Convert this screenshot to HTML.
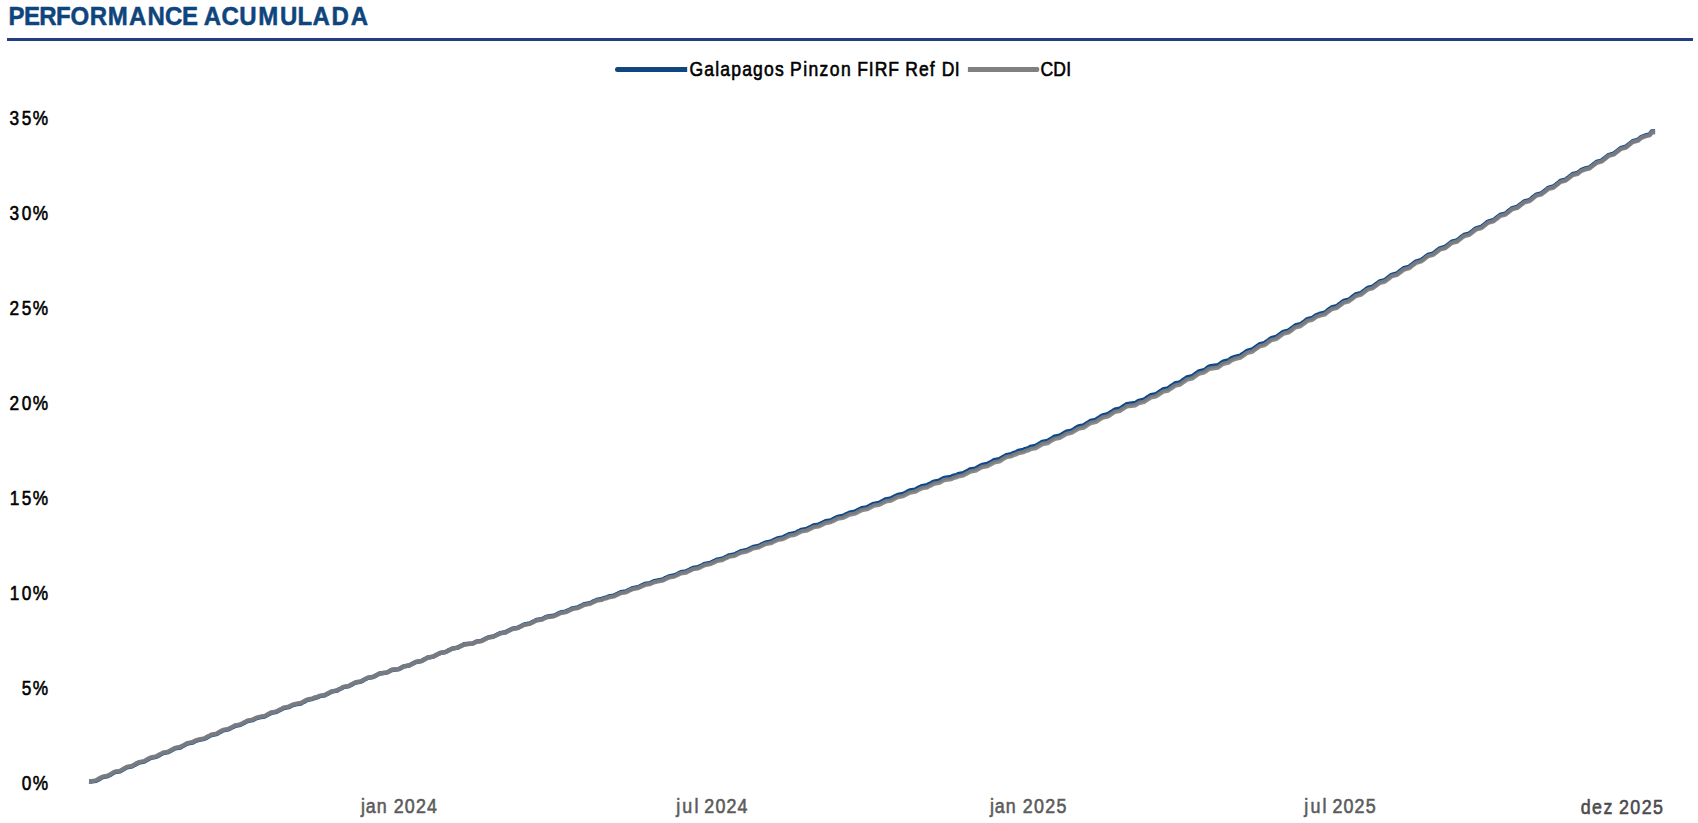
<!DOCTYPE html>
<html lang="pt-BR"><head><meta charset="utf-8"><title>PERFORMANCE ACUMULADA</title>
<style>
html,body{margin:0;padding:0;background:#fff;}
body{width:1698px;height:823px;overflow:hidden;position:relative;font-family:"Liberation Sans",sans-serif;}
svg{position:absolute;left:0;top:0;display:block}
text{font-family:"Liberation Sans",sans-serif;}
</style></head><body>
<svg width="1698" height="823" viewBox="0 0 1698 823">
<rect width="1698" height="823" fill="#fff"/>
<rect x="7" y="38" width="1686" height="3" fill="#203e80"/>
<!-- legend -->
<path d="M617.5,66.9 H687.2 V71.9 H617.5 A2.5,2.5 0 0 1 617.5,66.9 Z" fill="#11457e"/>
<path d="M967.9,67.1 H1037.6 Q1039.3,67.1 1039.3,69.5 Q1039.3,71.9 1037.6,71.9 H967.9 Z" fill="#808080"/>
<text transform="translate(0,25.0) scale(0.95,1)" x="9.05 25.26 41.32 58.95 74.31 94.38 113.52 135.92 155.34 173.64 191.58 194.74 214.60 233.21 251.85 271.86 294.67 313.24 328.93 349.05 369.21" y="0" font-size="25.3" font-weight="bold" fill="#0f457d" stroke="#0f457d" stroke-width="0.5" stroke-linejoin="round">PERFORMANCE ACUMULADA</text>
<text transform="translate(0,75.6) scale(0.86,1)" x="801.77 819.00 831.70 837.59 850.29 862.99 875.69 888.39 901.10 902.26 918.72 933.93 940.08 953.03 964.84 977.79 978.96 996.74 1010.30 1017.07 1032.91 1034.07 1052.55 1068.60 1081.26 1082.43 1095.11 1110.06" y="0" font-size="20.4" fill="#000" stroke="#000" stroke-width="0.6" stroke-linejoin="round">Galapagos Pinzon FIRF Ref DI</text>
<text transform="translate(0,75.6) scale(0.86,1)" x="1209.79 1224.75 1239.71" y="0" font-size="20.4" fill="#000" stroke="#000" stroke-width="0.6" stroke-linejoin="round">CDI</text>
<text transform="translate(0,790.0) scale(0.83,1)" x="26.07 39.54" y="0" font-size="20.8" fill="#000" stroke="#000" stroke-width="0.6" stroke-linejoin="round">0%</text>
<text transform="translate(0,695.0) scale(0.83,1)" x="26.07 39.54" y="0" font-size="20.8" fill="#000" stroke="#000" stroke-width="0.6" stroke-linejoin="round">5%</text>
<text transform="translate(0,599.9) scale(0.83,1)" x="11.68 26.07 39.54" y="0" font-size="20.8" fill="#000" stroke="#000" stroke-width="0.6" stroke-linejoin="round">10%</text>
<text transform="translate(0,504.9) scale(0.83,1)" x="11.68 26.07 39.54" y="0" font-size="20.8" fill="#000" stroke="#000" stroke-width="0.6" stroke-linejoin="round">15%</text>
<text transform="translate(0,409.8) scale(0.83,1)" x="11.34 26.07 39.54" y="0" font-size="20.8" fill="#000" stroke="#000" stroke-width="0.6" stroke-linejoin="round">20%</text>
<text transform="translate(0,314.8) scale(0.83,1)" x="11.34 26.07 39.54" y="0" font-size="20.8" fill="#000" stroke="#000" stroke-width="0.6" stroke-linejoin="round">25%</text>
<text transform="translate(0,219.7) scale(0.83,1)" x="11.39 26.07 39.54" y="0" font-size="20.8" fill="#000" stroke="#000" stroke-width="0.6" stroke-linejoin="round">30%</text>
<text transform="translate(0,124.7) scale(0.83,1)" x="11.39 26.07 39.54" y="0" font-size="20.8" fill="#000" stroke="#000" stroke-width="0.6" stroke-linejoin="round">35%</text>
<text transform="translate(0,812.6) scale(0.86,1)" x="419.71 425.41 438.06 439.23 457.91 470.78 483.65 496.52" y="0" font-size="20.8" fill="#5b5b5b" stroke="#5b5b5b" stroke-width="0.6" stroke-linejoin="round">jan 2024</text>
<text transform="translate(0,812.6) scale(0.86,1)" x="786.33 793.43 807.47 808.64 819.02 831.89 844.76 857.63" y="0" font-size="20.8" fill="#5b5b5b" stroke="#5b5b5b" stroke-width="0.6" stroke-linejoin="round">jul 2024</text>
<text transform="translate(0,812.6) scale(0.86,1)" x="1151.10 1156.81 1169.46 1170.62 1189.31 1202.36 1215.42 1228.47" y="0" font-size="20.8" fill="#5b5b5b" stroke="#5b5b5b" stroke-width="0.6" stroke-linejoin="round">jan 2025</text>
<text transform="translate(0,812.6) scale(0.86,1)" x="1516.68 1523.78 1537.82 1538.99 1549.31 1562.21 1575.11 1588.01" y="0" font-size="20.8" fill="#5b5b5b" stroke="#5b5b5b" stroke-width="0.6" stroke-linejoin="round">jul 2025</text>
<text transform="translate(0,813.5) scale(0.86,1)" x="1838.12 1851.30 1864.48 1865.64 1882.45 1895.70 1908.95 1922.19" y="0" font-size="20.8" fill="#4b4b4f" stroke="#4b4b4f" stroke-width="0.6" stroke-linejoin="round">dez 2025</text>

<g><!-- series -->
<path d="M89.0,781.4 L90.7,781.5 L95.9,780.9 L97.6,780.0 L99.3,779.0 L101.0,778.0 L102.8,777.1 L107.9,776.1 L109.7,775.1 L111.4,774.2 L113.1,773.2 L114.8,772.2 L120.0,771.3 L121.7,770.3 L123.4,769.3 L125.1,768.4 L126.9,767.4 L132.0,766.4 L133.7,765.4 L135.5,764.5 L137.2,763.5 L138.9,762.6 L144.1,761.6 L145.8,760.7 L147.5,759.7 L149.2,758.8 L151.0,757.9 L156.1,756.9 L157.8,756.0 L159.6,755.0 L161.3,754.1 L163.0,753.1 L168.2,752.2 L169.9,751.2 L171.6,750.3 L173.3,749.4 L175.0,748.4 L180.2,747.5 L181.9,746.5 L183.7,745.6 L185.4,744.6 L187.1,743.7 L192.3,742.7 L194.0,741.8 L195.7,740.8 L199.1,739.9 L204.3,738.9 L206.0,738.0 L207.7,737.0 L209.5,736.1 L211.2,735.1 L216.4,734.1 L218.1,733.2 L219.8,732.2 L221.5,731.3 L223.2,730.4 L228.4,729.4 L230.1,728.5 L231.8,727.6 L233.6,726.7 L235.3,725.8 L240.4,724.8 L242.2,723.9 L243.9,723.0 L245.6,722.1 L247.3,721.1 L252.5,720.2 L254.2,719.3 L255.9,718.3 L259.4,717.4 L264.5,716.5 L266.3,715.6 L268.0,714.6 L269.7,713.7 L271.4,712.8 L276.6,711.8 L278.3,710.9 L280.0,710.0 L281.8,709.1 L283.5,708.1 L288.6,707.2 L290.4,706.3 L292.1,705.3 L295.5,704.4 L300.7,703.5 L302.4,702.6 L304.1,701.7 L305.8,700.8 L307.6,699.9 L312.7,698.9 L314.4,698.0 L317.9,697.1 L319.6,696.2 L324.8,695.3 L326.5,694.4 L328.2,693.5 L329.9,692.6 L331.7,691.7 L336.8,690.7 L338.5,689.8 L340.3,688.9 L342.0,688.0 L343.7,687.1 L348.9,686.2 L350.6,685.2 L352.3,684.3 L354.0,683.4 L355.8,682.5 L360.9,681.6 L362.6,680.7 L364.4,679.7 L366.1,678.8 L367.8,677.9 L373.0,677.0 L374.7,676.2 L376.4,675.3 L378.1,674.4 L379.8,673.5 L386.7,672.6 L388.5,671.7 L390.2,670.8 L391.9,670.0 L398.8,669.1 L400.5,668.2 L402.2,667.3 L403.9,666.4 L409.1,665.5 L410.8,664.6 L412.5,663.7 L414.3,662.8 L416.0,662.0 L421.2,661.1 L422.9,660.2 L424.6,659.3 L426.3,658.4 L428.0,657.5 L433.2,656.6 L434.9,655.7 L436.6,654.8 L438.4,653.9 L440.1,653.0 L445.2,652.1 L447.0,651.2 L448.7,650.3 L450.4,649.5 L452.1,648.6 L457.3,647.7 L459.0,646.9 L460.7,646.0 L462.5,645.2 L464.2,644.3 L472.8,643.4 L474.5,642.6 L476.2,641.7 L481.4,640.8 L483.1,640.0 L484.8,639.1 L486.5,638.2 L488.3,637.4 L493.4,636.5 L495.2,635.6 L496.9,634.8 L498.6,633.9 L500.3,633.1 L505.5,632.2 L507.2,631.3 L508.9,630.4 L510.6,629.6 L512.4,628.7 L517.5,627.8 L519.2,627.0 L521.0,626.1 L522.7,625.2 L524.4,624.4 L529.6,623.5 L531.3,622.6 L533.0,621.7 L534.7,620.9 L536.5,620.0 L541.6,619.2 L543.3,618.4 L545.1,617.5 L546.8,616.7 L553.7,615.8 L555.4,615.0 L557.1,614.2 L558.8,613.3 L560.6,612.5 L565.7,611.6 L567.4,610.8 L569.2,610.0 L570.9,609.1 L572.6,608.3 L577.8,607.4 L579.5,606.6 L581.2,605.8 L582.9,604.9 L584.6,604.1 L589.8,603.2 L591.5,602.4 L593.2,601.5 L595.0,600.7 L596.7,599.9 L601.9,599.0 L603.6,598.2 L607.0,597.3 L608.7,596.5 L613.9,595.6 L615.6,594.8 L617.3,593.9 L619.1,593.1 L620.8,592.2 L625.9,591.4 L627.7,590.6 L629.4,589.7 L631.1,588.9 L632.8,588.1 L638.0,587.2 L639.7,586.4 L641.4,585.6 L643.2,584.7 L644.9,583.9 L650.0,583.1 L651.8,582.2 L653.5,581.4 L656.9,580.6 L662.1,579.7 L663.8,578.9 L665.5,578.0 L667.3,577.2 L669.0,576.4 L674.1,575.5 L675.9,574.7 L677.6,573.9 L679.3,573.0 L681.0,572.2 L686.2,571.3 L687.9,570.5 L689.6,569.7 L691.3,568.8 L693.1,568.0 L698.2,567.1 L700.0,566.3 L701.7,565.5 L703.4,564.6 L705.1,563.8 L710.3,562.9 L712.0,562.1 L713.7,561.2 L715.4,560.4 L717.2,559.6 L722.3,558.7 L724.0,557.9 L725.8,557.0 L727.5,556.2 L729.2,555.3 L734.4,554.5 L736.1,553.6 L737.8,552.8 L739.5,551.9 L741.3,551.1 L746.4,550.2 L748.1,549.4 L749.9,548.6 L751.6,547.7 L753.3,546.9 L758.5,546.0 L760.2,545.2 L761.9,544.3 L763.6,543.5 L765.3,542.6 L770.5,541.7 L772.2,540.9 L774.0,540.0 L775.7,539.2 L777.4,538.4 L782.6,537.5 L784.3,536.6 L786.0,535.8 L787.7,534.9 L789.4,534.1 L794.6,533.2 L796.3,532.4 L798.0,531.5 L799.8,530.7 L801.5,529.8 L806.7,528.9 L808.4,528.1 L810.1,527.2 L811.8,526.4 L813.5,525.5 L818.7,524.6 L820.4,523.8 L822.1,522.9 L823.9,522.1 L825.6,521.2 L830.7,520.4 L832.5,519.5 L834.2,518.6 L835.9,517.8 L837.6,516.9 L842.8,516.0 L844.5,515.2 L846.2,514.3 L848.0,513.5 L849.7,512.6 L854.8,511.7 L856.6,510.8 L858.3,509.9 L860.0,509.1 L861.7,508.2 L866.9,507.3 L868.6,506.4 L870.3,505.5 L872.0,504.6 L873.8,503.8 L878.9,502.9 L880.7,502.0 L882.4,501.1 L884.1,500.2 L885.8,499.3 L891.0,498.4 L892.7,497.5 L894.4,496.6 L896.1,495.8 L897.9,494.9 L903.0,494.0 L904.7,493.1 L906.5,492.2 L908.2,491.3 L909.9,490.5 L915.1,489.6 L916.8,488.7 L918.5,487.8 L920.2,486.9 L922.0,486.1 L927.1,485.2 L928.8,484.3 L930.6,483.4 L932.3,482.5 L934.0,481.6 L939.2,480.7 L940.9,479.7 L942.6,478.8 L944.3,477.9 L951.2,477.0 L952.9,476.0 L956.4,475.1 L958.1,474.2 L963.3,473.2 L965.0,472.3 L966.7,471.4 L968.4,470.5 L970.1,469.5 L975.3,468.6 L977.0,467.7 L978.8,466.7 L980.5,465.8 L982.2,464.9 L987.4,464.0 L989.1,463.0 L990.8,462.1 L992.5,461.2 L994.2,460.1 L999.4,459.1 L1001.1,458.1 L1002.8,457.1 L1004.6,456.1 L1006.3,455.1 L1011.5,454.1 L1013.2,453.0 L1016.6,452.0 L1018.3,451.0 L1023.5,450.0 L1025.2,449.0 L1028.7,448.0 L1030.4,446.9 L1035.5,445.9 L1037.3,444.9 L1039.0,443.9 L1040.7,442.9 L1042.4,441.8 L1047.6,440.8 L1049.3,439.8 L1051.0,438.8 L1052.8,437.8 L1054.5,436.7 L1059.6,435.7 L1061.4,434.7 L1063.1,433.7 L1064.8,432.6 L1066.5,431.6 L1071.7,430.6 L1073.4,429.6 L1075.1,428.5 L1076.8,427.5 L1078.6,426.4 L1083.7,425.3 L1085.5,424.2 L1087.2,423.1 L1088.9,422.0 L1090.6,420.9 L1095.8,419.8 L1097.5,418.6 L1099.2,417.5 L1100.9,416.4 L1102.7,415.3 L1107.8,414.2 L1109.5,413.1 L1111.3,412.0 L1113.0,410.9 L1114.7,409.7 L1119.9,408.6 L1121.6,407.5 L1123.3,406.4 L1125.0,405.3 L1126.8,404.2 L1135.4,403.0 L1137.1,401.9 L1138.8,400.8 L1144.0,399.7 L1145.7,398.6 L1147.4,397.4 L1149.1,396.3 L1150.9,395.2 L1156.0,394.1 L1157.7,393.0 L1159.5,391.8 L1161.2,390.7 L1162.9,389.5 L1168.1,388.3 L1169.8,387.1 L1171.5,385.9 L1173.2,384.7 L1174.9,383.5 L1180.1,382.3 L1181.8,381.1 L1183.5,379.8 L1185.3,378.6 L1187.0,377.4 L1192.2,376.2 L1193.9,375.0 L1195.6,373.8 L1197.3,372.6 L1199.0,371.4 L1204.2,370.2 L1205.9,369.0 L1207.6,367.7 L1209.4,366.5 L1218.0,365.3 L1219.7,364.1 L1221.4,362.9 L1223.1,361.7 L1228.3,360.5 L1230.0,359.3 L1231.7,358.1 L1235.2,356.9 L1240.3,355.7 L1242.1,354.4 L1243.8,353.2 L1245.5,352.0 L1247.2,350.8 L1252.4,349.5 L1254.1,348.2 L1255.8,347.0 L1257.6,345.7 L1259.3,344.5 L1264.4,343.2 L1266.2,341.9 L1267.9,340.7 L1269.6,339.4 L1271.3,338.2 L1276.5,336.9 L1278.2,335.6 L1279.9,334.4 L1281.6,333.1 L1283.4,331.8 L1288.5,330.6 L1290.3,329.3 L1292.0,328.0 L1293.7,326.8 L1295.4,325.5 L1300.6,324.2 L1302.3,322.9 L1304.0,321.7 L1305.7,320.4 L1307.5,319.1 L1312.6,317.8 L1314.3,316.6 L1316.1,315.3 L1319.5,314.0 L1324.7,312.7 L1326.4,311.4 L1328.1,310.1 L1329.8,308.8 L1331.6,307.5 L1336.7,306.2 L1338.4,304.9 L1340.2,303.6 L1341.9,302.3 L1343.6,301.0 L1348.8,299.7 L1350.5,298.4 L1352.2,297.1 L1353.9,295.8 L1355.6,294.5 L1360.8,293.2 L1362.5,291.9 L1364.3,290.6 L1366.0,289.2 L1367.7,287.9 L1372.9,286.6 L1374.6,285.3 L1376.3,284.0 L1378.0,282.7 L1379.7,281.4 L1384.9,280.1 L1386.6,278.7 L1388.3,277.4 L1390.1,276.1 L1391.8,274.8 L1397.0,273.5 L1398.7,272.1 L1400.4,270.8 L1402.1,269.5 L1403.8,268.2 L1409.0,266.9 L1410.7,265.5 L1412.4,264.2 L1414.2,262.9 L1415.9,261.6 L1421.0,260.2 L1422.8,258.9 L1424.5,257.6 L1426.2,256.2 L1427.9,254.9 L1433.1,253.6 L1434.8,252.3 L1436.5,250.9 L1438.3,249.6 L1440.0,248.3 L1445.1,246.9 L1446.9,245.6 L1448.6,244.3 L1450.3,242.9 L1452.0,241.6 L1457.2,240.3 L1458.9,238.9 L1460.6,237.6 L1462.3,236.3 L1464.1,234.9 L1469.2,233.6 L1471.0,232.3 L1472.7,230.9 L1474.4,229.6 L1476.1,228.3 L1481.3,226.9 L1483.0,225.6 L1484.7,224.2 L1486.4,222.9 L1488.2,221.6 L1493.3,220.2 L1495.0,218.9 L1496.8,217.5 L1498.5,216.2 L1500.2,214.9 L1505.4,213.5 L1507.1,212.2 L1508.8,210.8 L1510.5,209.5 L1512.3,208.1 L1517.4,206.8 L1519.1,205.4 L1520.9,204.1 L1522.6,202.7 L1524.3,201.4 L1529.5,200.0 L1531.2,198.7 L1532.9,197.3 L1534.6,196.0 L1536.4,194.6 L1541.5,193.3 L1543.2,191.9 L1545.0,190.5 L1546.7,189.2 L1548.4,187.8 L1553.6,186.5 L1555.3,185.1 L1557.0,183.7 L1558.7,182.4 L1560.4,181.0 L1565.6,179.7 L1567.3,178.3 L1569.1,176.9 L1570.8,175.6 L1572.5,174.2 L1577.7,172.8 L1579.4,171.5 L1581.1,170.1 L1584.5,168.7 L1589.7,167.4 L1591.4,166.0 L1593.1,164.6 L1594.9,163.3 L1596.6,161.9 L1601.7,160.5 L1603.5,159.1 L1605.2,157.8 L1606.9,156.4 L1608.6,155.0 L1613.8,153.6 L1615.5,152.3 L1617.2,150.9 L1619.0,149.5 L1620.7,148.1 L1625.8,146.7 L1627.6,145.3 L1629.3,144.0 L1631.0,142.6 L1632.7,141.2 L1637.9,139.8 L1639.6,138.4 L1641.3,137.0 L1644.8,135.7 L1649.9,134.3 L1651.7,131.5 L1653.4,131.5 L1655.1,131.5" fill="none" stroke="#0d498a" stroke-width="4.4" stroke-linejoin="round" stroke-linecap="butt"/>
<path d="M89.0,781.4 L90.7,781.4 L95.9,780.4 L97.6,779.5 L99.3,778.5 L101.0,777.5 L102.8,776.6 L107.9,775.6 L109.7,774.6 L111.4,773.7 L113.1,772.7 L114.8,771.7 L120.0,770.8 L121.7,769.8 L123.4,768.8 L125.1,767.9 L126.9,766.9 L132.0,765.9 L133.7,764.9 L135.5,764.0 L137.2,763.0 L138.9,762.1 L144.1,761.1 L145.8,760.2 L147.5,759.2 L149.2,758.3 L151.0,757.4 L156.1,756.4 L157.8,755.5 L159.6,754.5 L161.3,753.6 L163.0,752.6 L168.2,751.7 L169.9,750.7 L171.6,749.8 L173.3,748.9 L175.0,747.9 L180.2,747.0 L181.9,746.0 L183.7,745.1 L185.4,744.1 L187.1,743.2 L192.3,742.2 L194.0,741.3 L195.7,740.3 L199.1,739.4 L204.3,738.4 L206.0,737.5 L207.7,736.5 L209.5,735.6 L211.2,734.6 L216.4,733.6 L218.1,732.7 L219.8,731.7 L221.5,730.8 L223.2,729.9 L228.4,728.9 L230.1,728.0 L231.8,727.1 L233.6,726.2 L235.3,725.3 L240.4,724.3 L242.2,723.4 L243.9,722.5 L245.6,721.6 L247.3,720.6 L252.5,719.7 L254.2,718.8 L255.9,717.8 L259.4,716.9 L264.5,716.0 L266.3,715.1 L268.0,714.1 L269.7,713.2 L271.4,712.3 L276.6,711.3 L278.3,710.4 L280.0,709.5 L281.8,708.6 L283.5,707.6 L288.6,706.7 L290.4,705.8 L292.1,704.8 L295.5,703.9 L300.7,703.0 L302.4,702.1 L304.1,701.2 L305.8,700.3 L307.6,699.4 L312.7,698.5 L314.4,697.6 L317.9,696.7 L319.6,695.8 L324.8,694.9 L326.5,694.0 L328.2,693.1 L329.9,692.2 L331.7,691.3 L336.8,690.4 L338.5,689.5 L340.3,688.6 L342.0,687.7 L343.7,686.8 L348.9,685.9 L350.6,685.0 L352.3,684.0 L354.0,683.1 L355.8,682.2 L360.9,681.3 L362.6,680.4 L364.4,679.5 L366.1,678.6 L367.8,677.7 L373.0,676.9 L374.7,676.0 L376.4,675.1 L378.1,674.2 L379.8,673.4 L386.7,672.5 L388.5,671.6 L390.2,670.7 L391.9,669.8 L398.8,669.0 L400.5,668.1 L402.2,667.2 L403.9,666.3 L409.1,665.5 L410.8,664.6 L412.5,663.7 L414.3,662.8 L416.0,661.9 L421.2,661.1 L422.9,660.2 L424.6,659.3 L426.3,658.4 L428.0,657.5 L433.2,656.6 L434.9,655.8 L436.6,654.9 L438.4,654.0 L440.1,653.1 L445.2,652.2 L447.0,651.3 L448.7,650.5 L450.4,649.6 L452.1,648.7 L457.3,647.9 L459.0,647.0 L460.7,646.2 L462.5,645.3 L464.2,644.5 L472.8,643.6 L474.5,642.8 L476.2,641.9 L481.4,641.1 L483.1,640.2 L484.8,639.3 L486.5,638.5 L488.3,637.6 L493.4,636.8 L495.2,635.9 L496.9,635.1 L498.6,634.2 L500.3,633.4 L505.5,632.5 L507.2,631.6 L508.9,630.8 L510.6,629.9 L512.4,629.1 L517.5,628.2 L519.2,627.4 L521.0,626.5 L522.7,625.6 L524.4,624.8 L529.6,623.9 L531.3,623.1 L533.0,622.2 L534.7,621.3 L536.5,620.5 L541.6,619.7 L543.3,618.9 L545.1,618.0 L546.8,617.2 L553.7,616.4 L555.4,615.5 L557.1,614.7 L558.8,613.9 L560.6,613.1 L565.7,612.2 L567.4,611.4 L569.2,610.6 L570.9,609.7 L572.6,608.9 L577.8,608.1 L579.5,607.3 L581.2,606.4 L582.9,605.6 L584.6,604.8 L589.8,603.9 L591.5,603.1 L593.2,602.3 L595.0,601.4 L596.7,600.6 L601.9,599.8 L603.6,598.9 L607.0,598.1 L608.7,597.3 L613.9,596.4 L615.6,595.6 L617.3,594.7 L619.1,593.9 L620.8,593.1 L625.9,592.3 L627.7,591.4 L629.4,590.6 L631.1,589.8 L632.8,589.0 L638.0,588.1 L639.7,587.3 L641.4,586.5 L643.2,585.7 L644.9,584.9 L650.0,584.0 L651.8,583.2 L653.5,582.4 L656.9,581.6 L662.1,580.7 L663.8,579.9 L665.5,579.1 L667.3,578.2 L669.0,577.4 L674.1,576.6 L675.9,575.8 L677.6,574.9 L679.3,574.1 L681.0,573.3 L686.2,572.5 L687.9,571.6 L689.6,570.8 L691.3,570.0 L693.1,569.1 L698.2,568.3 L700.0,567.5 L701.7,566.6 L703.4,565.8 L705.1,565.0 L710.3,564.1 L712.0,563.3 L713.7,562.5 L715.4,561.7 L717.2,560.8 L722.3,560.0 L724.0,559.1 L725.8,558.3 L727.5,557.5 L729.2,556.6 L734.4,555.8 L736.1,555.0 L737.8,554.1 L739.5,553.3 L741.3,552.5 L746.4,551.6 L748.1,550.8 L749.9,550.0 L751.6,549.1 L753.3,548.3 L758.5,547.4 L760.2,546.6 L761.9,545.8 L763.6,544.9 L765.3,544.1 L770.5,543.2 L772.2,542.4 L774.0,541.6 L775.7,540.7 L777.4,539.9 L782.6,539.0 L784.3,538.2 L786.0,537.4 L787.7,536.5 L789.4,535.7 L794.6,534.8 L796.3,534.0 L798.0,533.1 L799.8,532.3 L801.5,531.4 L806.7,530.6 L808.4,529.8 L810.1,528.9 L811.8,528.1 L813.5,527.2 L818.7,526.4 L820.4,525.5 L822.1,524.7 L823.9,523.8 L825.6,523.0 L830.7,522.1 L832.5,521.3 L834.2,520.4 L835.9,519.6 L837.6,518.7 L842.8,517.9 L844.5,517.0 L846.2,516.2 L848.0,515.3 L849.7,514.5 L854.8,513.6 L856.6,512.7 L858.3,511.8 L860.0,511.0 L861.7,510.1 L866.9,509.2 L868.6,508.4 L870.3,507.5 L872.0,506.6 L873.8,505.7 L878.9,504.9 L880.7,504.0 L882.4,503.1 L884.1,502.2 L885.8,501.4 L891.0,500.5 L892.7,499.6 L894.4,498.7 L896.1,497.8 L897.9,497.0 L903.0,496.1 L904.7,495.2 L906.5,494.3 L908.2,493.4 L909.9,492.6 L915.1,491.7 L916.8,490.8 L918.5,489.9 L920.2,489.0 L922.0,488.2 L927.1,487.3 L928.8,486.4 L930.6,485.5 L932.3,484.6 L934.0,483.7 L939.2,482.8 L940.9,481.9 L942.6,480.9 L944.3,480.0 L951.2,479.1 L952.9,478.2 L956.4,477.2 L958.1,476.3 L963.3,475.4 L965.0,474.4 L966.7,473.5 L968.4,472.6 L970.1,471.7 L975.3,470.7 L977.0,469.8 L978.8,468.9 L980.5,467.9 L982.2,467.0 L987.4,466.1 L989.1,465.1 L990.8,464.2 L992.5,463.3 L994.2,462.3 L999.4,461.3 L1001.1,460.3 L1002.8,459.2 L1004.6,458.2 L1006.3,457.2 L1011.5,456.2 L1013.2,455.2 L1016.6,454.2 L1018.3,453.2 L1023.5,452.1 L1025.2,451.1 L1028.7,450.1 L1030.4,449.1 L1035.5,448.1 L1037.3,447.0 L1039.0,446.0 L1040.7,445.0 L1042.4,444.0 L1047.6,443.0 L1049.3,442.0 L1051.0,440.9 L1052.8,439.9 L1054.5,438.9 L1059.6,437.9 L1061.4,436.8 L1063.1,435.8 L1064.8,434.8 L1066.5,433.8 L1071.7,432.7 L1073.4,431.7 L1075.1,430.7 L1076.8,429.7 L1078.6,428.6 L1083.7,427.5 L1085.5,426.4 L1087.2,425.2 L1088.9,424.1 L1090.6,423.0 L1095.8,421.9 L1097.5,420.8 L1099.2,419.7 L1100.9,418.6 L1102.7,417.5 L1107.8,416.4 L1109.5,415.3 L1111.3,414.1 L1113.0,413.0 L1114.7,411.9 L1119.9,410.8 L1121.6,409.7 L1123.3,408.6 L1125.0,407.5 L1126.8,406.3 L1135.4,405.2 L1137.1,404.1 L1138.8,403.0 L1144.0,401.9 L1145.7,400.7 L1147.4,399.6 L1149.1,398.5 L1150.9,397.4 L1156.0,396.3 L1157.7,395.1 L1159.5,394.0 L1161.2,392.9 L1162.9,391.7 L1168.1,390.5 L1169.8,389.3 L1171.5,388.1 L1173.2,386.9 L1174.9,385.7 L1180.1,384.5 L1181.8,383.3 L1183.5,382.0 L1185.3,380.8 L1187.0,379.6 L1192.2,378.4 L1193.9,377.2 L1195.6,376.0 L1197.3,374.8 L1199.0,373.6 L1204.2,372.3 L1205.9,371.1 L1207.6,369.9 L1209.4,368.7 L1218.0,367.5 L1219.7,366.3 L1221.4,365.0 L1223.1,363.8 L1228.3,362.6 L1230.0,361.4 L1231.7,360.2 L1235.2,358.9 L1240.3,357.7 L1242.1,356.5 L1243.8,355.3 L1245.5,354.0 L1247.2,352.8 L1252.4,351.5 L1254.1,350.2 L1255.8,349.0 L1257.6,347.7 L1259.3,346.4 L1264.4,345.1 L1266.2,343.9 L1267.9,342.6 L1269.6,341.3 L1271.3,340.1 L1276.5,338.8 L1278.2,337.5 L1279.9,336.2 L1281.6,335.0 L1283.4,333.7 L1288.5,332.4 L1290.3,331.1 L1292.0,329.9 L1293.7,328.6 L1295.4,327.3 L1300.6,326.0 L1302.3,324.7 L1304.0,323.5 L1305.7,322.2 L1307.5,320.9 L1312.6,319.6 L1314.3,318.3 L1316.1,317.0 L1319.5,315.7 L1324.7,314.4 L1326.4,313.1 L1328.1,311.8 L1329.8,310.5 L1331.6,309.2 L1336.7,307.9 L1338.4,306.6 L1340.2,305.3 L1341.9,304.0 L1343.6,302.6 L1348.8,301.3 L1350.5,300.0 L1352.2,298.7 L1353.9,297.4 L1355.6,296.1 L1360.8,294.7 L1362.5,293.4 L1364.3,292.1 L1366.0,290.8 L1367.7,289.5 L1372.9,288.1 L1374.6,286.8 L1376.3,285.5 L1378.0,284.2 L1379.7,282.8 L1384.9,281.5 L1386.6,280.2 L1388.3,278.9 L1390.1,277.5 L1391.8,276.2 L1397.0,274.9 L1398.7,273.5 L1400.4,272.2 L1402.1,270.9 L1403.8,269.6 L1409.0,268.2 L1410.7,266.9 L1412.4,265.6 L1414.2,264.2 L1415.9,262.9 L1421.0,261.5 L1422.8,260.2 L1424.5,258.9 L1426.2,257.5 L1427.9,256.2 L1433.1,254.9 L1434.8,253.5 L1436.5,252.2 L1438.3,250.8 L1440.0,249.5 L1445.1,248.1 L1446.9,246.8 L1448.6,245.5 L1450.3,244.1 L1452.0,242.8 L1457.2,241.5 L1458.9,240.1 L1460.6,238.8 L1462.3,237.4 L1464.1,236.1 L1469.2,234.8 L1471.0,233.4 L1472.7,232.1 L1474.4,230.7 L1476.1,229.4 L1481.3,228.1 L1483.0,226.7 L1484.7,225.4 L1486.4,224.0 L1488.2,222.7 L1493.3,221.4 L1495.0,220.0 L1496.8,218.7 L1498.5,217.3 L1500.2,216.0 L1505.4,214.6 L1507.1,213.3 L1508.8,211.9 L1510.5,210.6 L1512.3,209.2 L1517.4,207.9 L1519.1,206.5 L1520.9,205.1 L1522.6,203.8 L1524.3,202.4 L1529.5,201.1 L1531.2,199.7 L1532.9,198.4 L1534.6,197.0 L1536.4,195.6 L1541.5,194.3 L1543.2,192.9 L1545.0,191.6 L1546.7,190.2 L1548.4,188.8 L1553.6,187.5 L1555.3,186.1 L1557.0,184.7 L1558.7,183.4 L1560.4,182.0 L1565.6,180.6 L1567.3,179.3 L1569.1,177.9 L1570.8,176.5 L1572.5,175.2 L1577.7,173.8 L1579.4,172.4 L1581.1,171.0 L1584.5,169.7 L1589.7,168.3 L1591.4,166.9 L1593.1,165.5 L1594.9,164.2 L1596.6,162.8 L1601.7,161.4 L1603.5,160.0 L1605.2,158.7 L1606.9,157.3 L1608.6,155.9 L1613.8,154.5 L1615.5,153.1 L1617.2,151.7 L1619.0,150.4 L1620.7,149.0 L1625.8,147.6 L1627.6,146.2 L1629.3,144.8 L1631.0,143.4 L1632.7,142.0 L1637.9,140.7 L1639.6,139.3 L1641.3,137.9 L1644.8,136.5 L1649.9,135.1 L1651.7,132.3 L1653.4,132.3 L1655.1,132.3" fill="none" stroke="#808080" stroke-opacity="0.92" stroke-width="4.4" stroke-linejoin="round" stroke-linecap="butt"/>
</g></svg>
</body></html>
